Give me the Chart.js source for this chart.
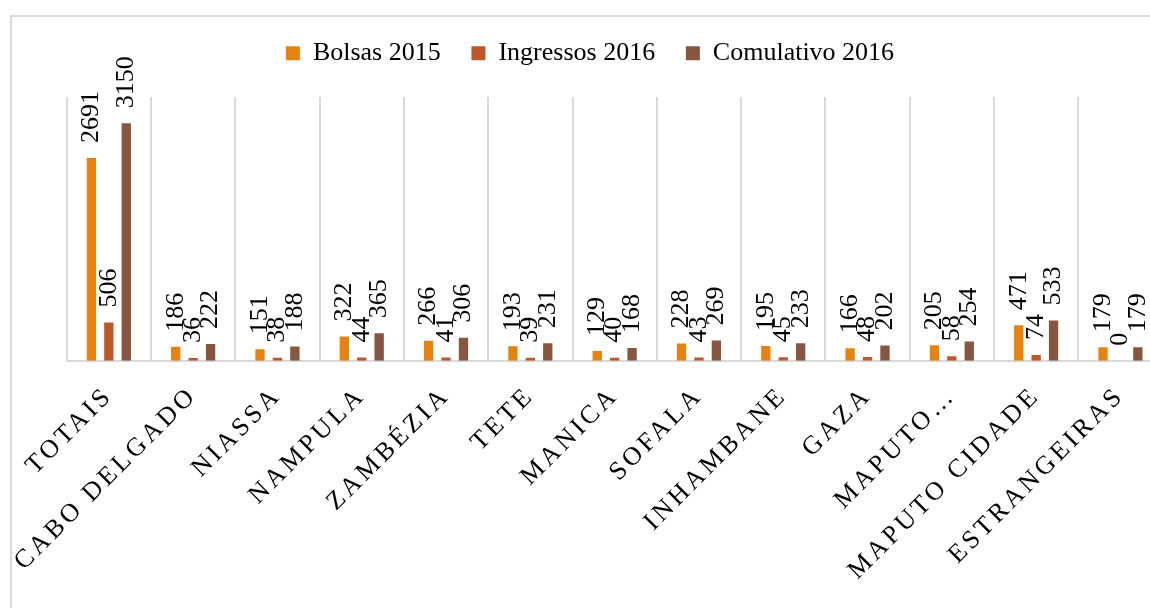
<!DOCTYPE html>
<html>
<head>
<meta charset="utf-8">
<script src="https://cdn.jsdelivr.net/npm/chart.js@4.4.0/dist/chart.umd.min.js"></script>
<style>
  html, body { margin: 0; padding: 0; background: #fff; overflow: hidden; width: 1150px; height: 608px; }
  #frame { position: absolute; left: 10px; top: 15px; width: 1300px; height: 700px;
           border-left: 2px solid #d9d9d9; border-top: 2px solid #d9d9d9; }
  #wrap { position: absolute; left: 0; top: 0; width: 1180px; height: 608px; }
</style>
</head>
<body>
<div id="frame"></div>
<div id="wrap"><canvas id="chart" width="1180" height="608"></canvas></div>
<script>
// Bolsas / ingressos por província

var provincias = ['TOTAIS', 'CABO DELGADO', 'NIASSA', 'NAMPULA', 'ZAMBÉZIA', 'TETE', 'MANICA',
  'SOFALA', 'INHAMBANE', 'GAZA', 'MAPUTO…', 'MAPUTO CIDADE', 'ESTRANGEIRAS'];
var bolsas2015 = [2691, 186, 151, 322, 266, 193, 129, 228, 195, 166, 205, 471, 179];
var ingressos2016 = [506, 36, 38, 44, 41, 39, 40, 43, 45, 48, 58, 74, 0];
var comulativo2016 = [3150, 222, 188, 365, 306, 231, 168, 269, 233, 202, 254, 533, 179];

var serif = '"Liberation Serif", "Times New Roman", serif';
Chart.defaults.font.family = serif;
Chart.defaults.color = '#000';

// value labels, rotated, above each bar
var barLabels = {
  id: 'barLabels',
  afterDatasetsDraw: function (chart) {
    var ctx = chart.ctx;
    ctx.save();
    ctx.font = '26px ' + serif;
    ctx.fillStyle = '#000';
    ctx.textAlign = 'left';
    ctx.textBaseline = 'middle';
    chart.data.datasets.forEach(function (ds, i) {
      chart.getDatasetMeta(i).data.forEach(function (bar, j) {
        ctx.save();
        ctx.translate(bar.x, bar.y - 15);
        ctx.rotate(-Math.PI / 2);
        ctx.fillText(String(ds.data[j]), 0, 0);
        ctx.restore();
      });
    });
    ctx.restore();
  }
};

// category labels are a bit letter-spaced in the original
var spacedTicks = {
  id: 'spacedTicks',
  beforeDraw: function (chart) {
    var s = chart.scales.x;
    if (s._spaced) return;
    var orig = s.drawLabels;
    s.drawLabels = function (area) {
      var ctx = this.ctx;
      ctx.save();
      ctx.letterSpacing = '3.5px';
      orig.call(this, area);
      ctx.restore();
    };
    s._spaced = true;
  }
};

new Chart(document.getElementById('chart'), {
  type: 'bar',
  data: {
    labels: provincias,
    datasets: [
      { label: 'Bolsas 2015', data: bolsas2015, backgroundColor: '#E48312' },
      { label: 'Ingressos 2016', data: ingressos2016, backgroundColor: '#BD582C' },
      { label: 'Comulativo 2016', data: comulativo2016, backgroundColor: '#865640' }
    ]
  },
  options: {
    responsive: false,
    animation: false,
    devicePixelRatio: 1,
    categoryPercentage: 0.62,
    barPercentage: 0.535,
    layout: { padding: { left: 17.4, right: 17.4, top: 9.6, bottom: 0 } },
    scales: {
      x: {
        grid: { color: '#d9d9d9', lineWidth: 2, drawTicks: false, offset: true },
        border: { color: '#d9d9d9', width: 2 },
        ticks: {
          color: '#000',
          font: { size: 26 },
          minRotation: 45,
          maxRotation: 45,
          autoSkip: false,
          padding: 20
        },
        afterFit: function (s) { s.height = 247.3; }
      },
      y: {
        min: 0,
        max: 3500,
        grid: { display: false },
        border: { display: false },
        ticks: { display: false },
        afterFit: function (s) { s.width = 49.3; }
      }
    },
    plugins: {
      legend: {
        position: 'top',
        labels: {
          color: '#000',
          font: { size: 26 },
          boxWidth: 14,
          boxHeight: 14,
          padding: 30.7
        }
      },
      // empty spacer between legend and plot
      subtitle: {
        display: true,
        text: '',
        weight: 500,
        font: { size: 10, lineHeight: 0 },
        padding: { top: 20.7, bottom: 0 }
      },
      tooltip: { enabled: false }
    }
  },
  plugins: [barLabels, spacedTicks]
});
</script>
</body>
</html>
